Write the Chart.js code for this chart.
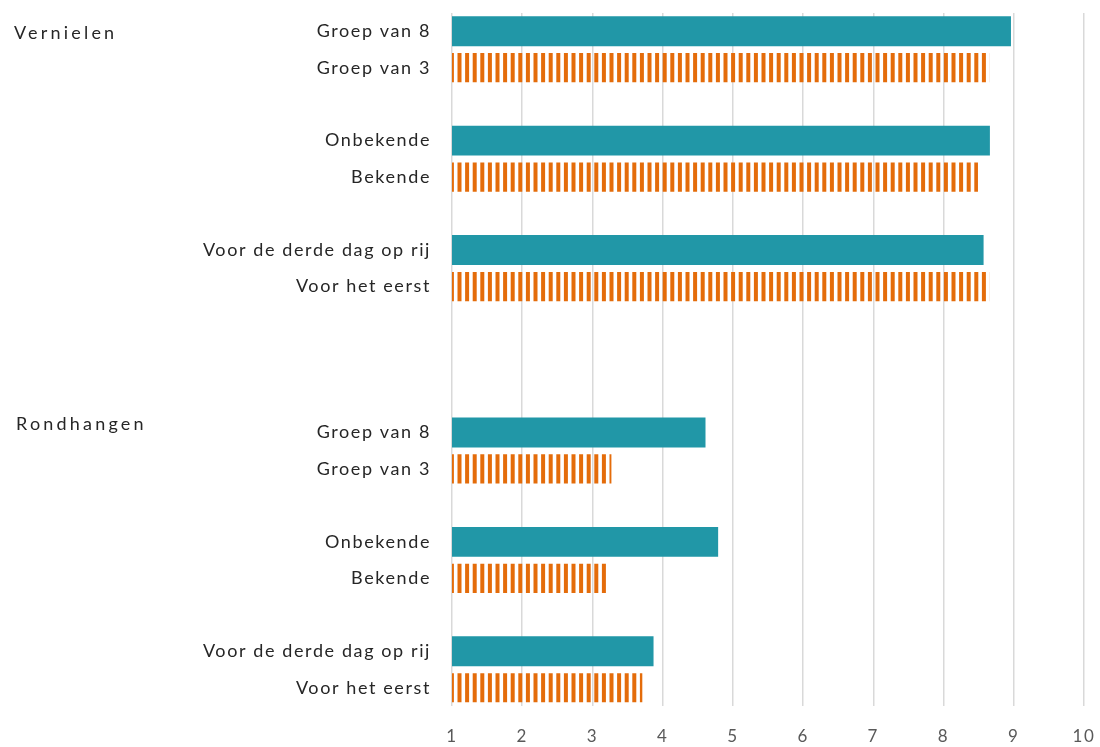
<!DOCTYPE html>
<html>
<head>
<meta charset="utf-8">
<script src="https://cdn.jsdelivr.net/npm/chart.js@4.4.1/dist/chart.umd.min.js"></script>
<style>
  html, body { margin: 0; padding: 0; background: #fff; }
  #wrap { width: 1100px; height: 747px; }
</style>
</head>
<body>
<div id="wrap"><canvas id="chart-scores" width="1100" height="747"></canvas></div>
<script>
// Gegevens
const groepen = ["Vernielen", "Rondhangen"];
const categorieen = ["Groep van 8", "Groep van 3", "Onbekende", "Bekende", "Voor de derde dag op rij", "Voor het eerst"];
const vernielen = [8.96, 8.65, 8.66, 8.49, 8.57, 8.65];
const rondhangen = [4.61, 3.27, 4.79, 3.23, 3.87, 3.71];
const xTicks = [1, 2, 3, 4, 5, 6, 7, 8, 9, 10];

const TEAL = "#2197a7";
const ORANJE = "#e46c0a";
const FONT = "Lato";

// rijen opbouwen: per groep paren met lege rij ertussen, 3 lege rijen tussen groepen
const reeksen = [vernielen, rondhangen];
let rijen = [];
let groepStart = [];
groepen.forEach((g, gi) => {
  if (gi > 0) rijen.push(null, null, null);
  groepStart.push(rijen.length);
  categorieen.forEach((c, ci) => {
    if (ci > 0 && ci % 2 == 0) rijen.push(null);
    rijen.push({ label: c, waarde: reeksen[gi][ci], vol: ci % 2 == 0 });
  });
});
const labels = rijen.map(r => r ? r.label : "");
const dataVol = rijen.map(r => r && r.vol ? r.waarde : null);
const dataStreep = rijen.map(r => r && !r.vol ? r.waarde : null);

// streeppatroon oranje
function maakPatroon() {
  const c = document.createElement("canvas");
  c.width = 38; c.height = 10;
  const p = c.getContext("2d");
  p.fillStyle = ORANJE;
  for (let i = 0; i < 5; i++) p.fillRect(i * 7.6 + 1.5, 0, 4, 10);
  return document.getElementById("chart-scores").getContext("2d").createPattern(c, "repeat");
}

const groepLabels = {
  id: "groepLabels",
  beforeDraw(chart) { chart.ctx.letterSpacing = "1.6px"; },
  afterDraw(chart) {
    const ctx = chart.ctx;
    const y = chart.scales.y;
    ctx.save();
    ctx.letterSpacing = "3.2px";
    ctx.font = "18px " + FONT;
    ctx.fillStyle = "#262626";
    ctx.textBaseline = "middle";
    ctx.textAlign = "left";
    ctx.fillText(groepen[0], 14, y.getPixelForValue(groepStart[0]) + 2);
    ctx.fillText(groepen[1], 16, y.getPixelForValue(groepStart[1]) - 8);
    ctx.restore();
  }
};

new Chart(document.getElementById("chart-scores").getContext("2d"), {
  type: "bar",
  data: {
    labels: labels,
    datasets: [
      { data: dataVol, backgroundColor: TEAL, grouped: false, categoryPercentage: 1, barPercentage: 0.82 },
      { data: dataStreep, backgroundColor: maakPatroon(), grouped: false, categoryPercentage: 1, barPercentage: 0.8 }
    ]
  },
  options: {
    indexAxis: "y",
    responsive: false,
    animation: false,
    layout: { padding: { top: 13, right: 16, bottom: 0, left: 0 } },
    plugins: { legend: { display: false }, tooltip: { enabled: false } },
    scales: {
      x: {
        min: 1, max: 10,
        afterBuildTicks: s => { s.ticks = xTicks.map(v => ({ value: v })); },
        afterFit: s => { s.height = 41; s.paddingLeft = 0; s.paddingRight = 0; },
        grid: { color: "#d9d9d9", lineWidth: 1.5, drawTicks: false },
        border: { display: false },
        ticks: { padding: 20, color: "#595959", font: { family: FONT, size: 17 } }
      },
      y: {
        afterFit: s => { s.width = 452; s.paddingTop = 0; s.paddingBottom = 0; },
        grid: { display: false, drawTicks: false },
        border: { display: false },
        ticks: { padding: 21, color: "#262626", autoSkip: false, font: { family: FONT, size: 18 } }
      }
    }
  },
  plugins: [groepLabels]
});
</script>
</body>
</html>
